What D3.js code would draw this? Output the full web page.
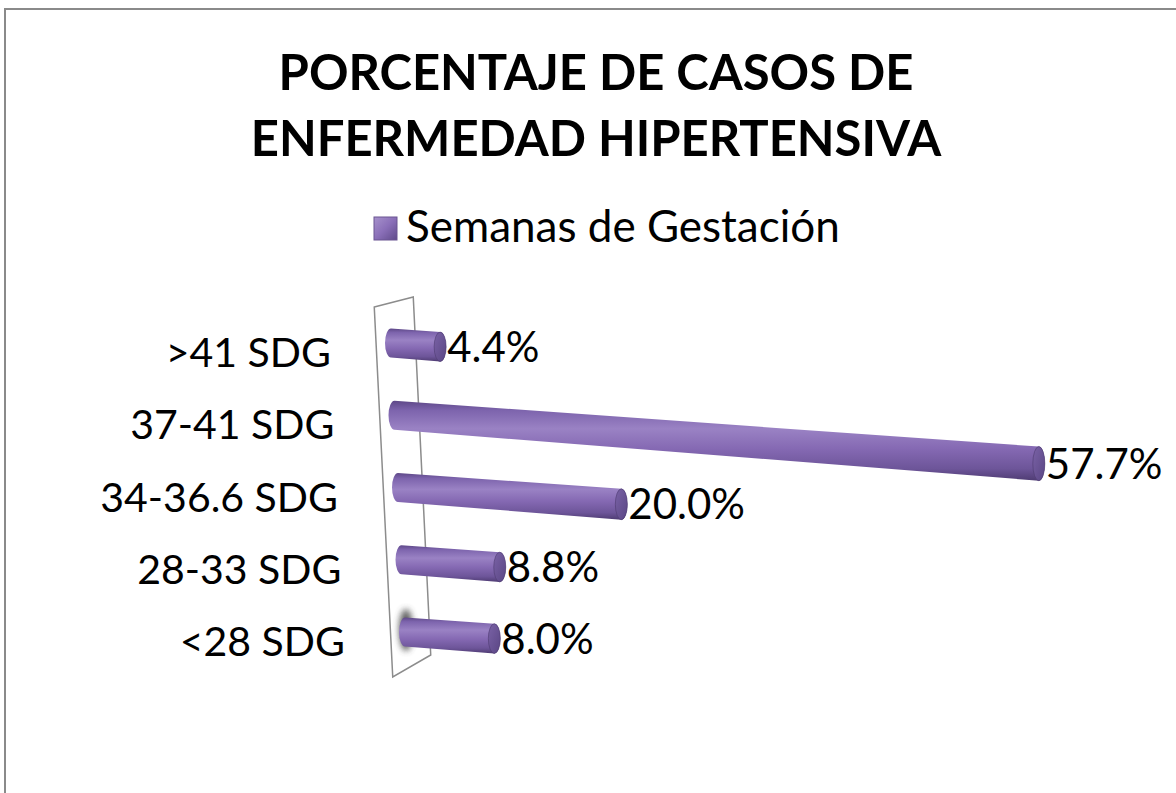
<!doctype html>
<html lang="es">
<head>
<meta charset="utf-8">
<script src="https://d3js.org/d3.v7.min.js"></script>
<style>
  body { margin: 0; background: #fff; }
  text { font-family: Lato, "Open Sans", sans-serif; fill: #000; }
</style>
</head>
<body>
<script>
// chart data
const categories = [">41 SDG", "37-41 SDG", "34-36.6 SDG", "28-33 SDG", "<28 SDG"];
const values = [4.4, 57.7, 20.0, 8.8, 8.0];
const valueLabels = ["4.4%", "57.7%", "20.0%", "8.8%", "8.0%"];
const titleLines = ["PORCENTAJE DE CASOS DE", "ENFERMEDAD HIPERTENSIVA"];
const seriesName = "Semanas de Gestación";

const width = 1176, height = 793;

const svg = d3.select("body").append("svg")
    .attr("width", width)
    .attr("height", height);

const defs = svg.append("defs");

// cylinder body shading
const bodyGrad = defs.append("linearGradient")
    .attr("id", "bodyGrad")
    .attr("x1", 0).attr("y1", 0).attr("x2", 0).attr("y2", 1);
[[0, "#5e4888"], [0.12, "#7d64ad"], [0.35, "#9a82c4"], [0.6, "#8569b3"], [0.85, "#6d5599"], [1, "#4f3c73"]]
  .forEach(s => bodyGrad.append("stop").attr("offset", s[0]).attr("stop-color", s[1]));

const faceGrad = defs.append("linearGradient")
    .attr("id", "faceGrad")
    .attr("x1", 0).attr("y1", 0).attr("x2", 1).attr("y2", 1);
faceGrad.append("stop").attr("offset", 0).attr("stop-color", "#7a62a6");
faceGrad.append("stop").attr("offset", 1).attr("stop-color", "#5a4684");

const legGrad = defs.append("linearGradient")
    .attr("id", "legGrad")
    .attr("x1", 0).attr("y1", 0).attr("x2", 1).attr("y2", 1);
legGrad.append("stop").attr("offset", 0).attr("stop-color", "#a792cc");
legGrad.append("stop").attr("offset", 0.5).attr("stop-color", "#8a6fb8");
legGrad.append("stop").attr("offset", 1).attr("stop-color", "#5f4a8a");

defs.append("filter").attr("id", "blur")
    .attr("x", "-100%").attr("y", "-100%").attr("width", "300%").attr("height", "300%")
  .append("feGaussianBlur").attr("stdDeviation", 3);

// outer chart border
svg.append("rect")
    .attr("x", 5).attr("y", 9)
    .attr("width", 1300).attr("height", 900)
    .attr("fill", "none")
    .attr("stroke", "#8a8a8a")
    .attr("stroke-width", 2);

// title
svg.selectAll(".title")
  .data(titleLines)
  .join("text")
    .attr("class", "title")
    .attr("x", 596)
    .attr("y", (d, i) => 90 + i * 66)
    .attr("text-anchor", "middle")
    .style("font-weight", "bold")
    .style("font-size", "49px")
    .text(d => d);

// legend
svg.append("rect")
    .attr("x", 374).attr("y", 217)
    .attr("width", 23).attr("height", 23)
    .attr("fill", "url(#legGrad)")
    .attr("stroke", "#6a5592")
    .attr("stroke-width", 1);
svg.append("text")
    .attr("x", 406).attr("y", 242)
    .style("font-size", "44px")
    .text(seriesName);

// scales
const y = d3.scaleBand()
    .domain(categories)
    .range([307, 668]);

const baseX = d3.scaleLinear()
    .domain([343, 632])
    .range([391, 405]);

const len = d3.scaleLinear()
    .domain([0, 60])
    .range([0, 670]);

const drop = 0.075;   // perspective tilt of the bars
const hl = 14.5;      // half thickness at the start
const rx = 6;         // cap radius

const rows = categories.map((c, i) => {
  const yc = y(c) + y.bandwidth() / 2;
  const xl = baseX(yc);
  const L = len(values[i]);
  return {
    cat: c, value: values[i], label: valueLabels[i],
    yc: yc, xl: xl, xr: xl + L, yr: yc + drop * L, hr: hl + 0.004 * L
  };
});

// back wall (slanted frame)
const yTop = y.range()[0], yBot = y.range()[1];
const wall = [
  [baseX(yTop) - 15, yTop],
  [baseX(yTop) + 24, yTop - 10],
  [baseX(yBot) + 24, yBot - 13],
  [baseX(yBot) - 14, yBot + 9]
];
svg.append("path")
    .attr("d", d3.line()(wall) + "Z")
    .attr("fill", "none")
    .attr("stroke", "#8c8c8c")
    .attr("stroke-width", 1.5);

// shadow at the bottom corner
const last = rows[rows.length - 1];
svg.append("ellipse")
    .attr("cx", last.xl + 1).attr("cy", last.yc - 2)
    .attr("rx", 7).attr("ry", 21)
    .attr("fill", "#444")
    .attr("opacity", 0.85)
    .attr("filter", "url(#blur)");

// cylinders
const bars = svg.selectAll(".bar")
  .data(rows)
  .join("g")
    .attr("class", "bar");

bars.append("path")
    .attr("d", d =>
      "M" + d.xl + "," + (d.yc - hl) +
      "L" + d.xr + "," + (d.yr - d.hr) +
      "A" + rx + "," + d.hr + " 0 0 1 " + d.xr + "," + (d.yr + d.hr) +
      "L" + d.xl + "," + (d.yc + hl) +
      "A" + rx + "," + hl + " 0 0 1 " + d.xl + "," + (d.yc - hl) + "Z")
    .attr("fill", "url(#bodyGrad)");

bars.append("ellipse")
    .attr("cx", d => d.xr).attr("cy", d => d.yr)
    .attr("rx", rx).attr("ry", d => d.hr)
    .attr("fill", "url(#faceGrad)")
    .attr("stroke", "#4d3b70")
    .attr("stroke-width", 0.6);

// value labels
bars.append("text")
    .attr("x", d => d.xr + 7)
    .attr("y", d => d.yr + 15)
    .style("font-size", "42px")
    .text(d => d.label);

// category labels
svg.selectAll(".cat")
  .data(rows)
  .join("text")
    .attr("class", "cat")
    .attr("x", d => d.xl - 60)
    .attr("y", d => d.yc + 24)
    .attr("text-anchor", "end")
    .style("font-size", "41px")
    .text(d => d.cat);
</script>
</body>
</html>
